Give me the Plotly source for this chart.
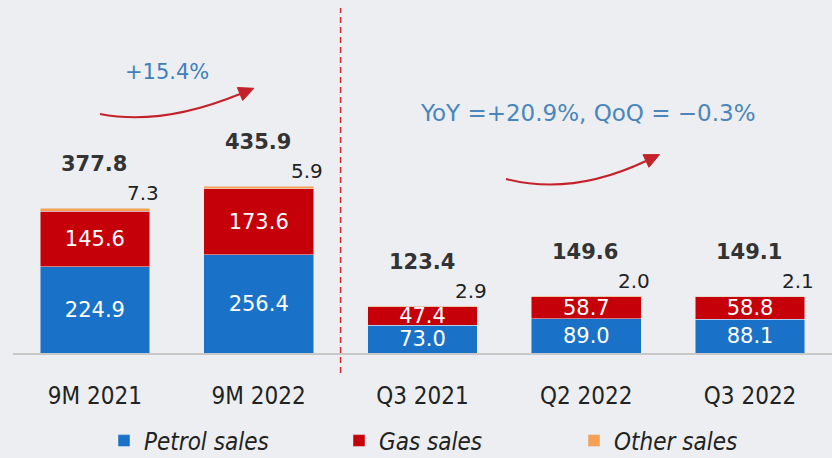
import math
import plotly.graph_objects as go

categories = ["9M 2021", "9M 2022", "Q3 2021", "Q2 2022", "Q3 2022"]
petrol = [224.9, 256.4, 73.0, 89.0, 88.1]
gas = [145.6, 173.6, 47.4, 58.7, 58.8]
other = [7.3, 5.9, 2.9, 2.0, 2.1]
totals = [377.8, 435.9, 123.4, 149.6, 149.1]
series_names = ["Petrol sales", "Gas sales", "Other sales"]
growth_9m = "+15.4%"
growth_q3 = "YoY =+20.9%, QoQ = −0.3%"

W, H = 832, 458
ML, MR, MT, MB = 13, 0, 47, 105
PW = W - ML - MR
PH = H - MT - MB

BLUE = "#1a72c8"
RED = "#c60008"
ORANGE = "#f5a055"
NUM_FONT = "DejaVu Sans"
COND_FONT = "DejaVu Sans Condensed, Liberation Sans Narrow, sans-serif"


def pp(x, y):
    """pixel -> paper coordinates"""
    return (x - ML) / PW, (H - MB - y) / PH


fig = go.Figure()
fig.add_trace(go.Bar(
    x=categories, y=petrol, name=series_names[0], marker_color=BLUE,
    texttemplate="%{y:.1f}", textposition="inside", insidetextanchor="middle",
    textangle=0, constraintext="none",
    textfont=dict(color="white", size=21, family=NUM_FONT),
))
fig.add_trace(go.Bar(
    x=categories, y=gas, name=series_names[1], marker_color=RED,
    texttemplate="%{y:.1f}", textposition="inside", insidetextanchor="middle",
    textangle=0, constraintext="none",
    textfont=dict(color="white", size=21, family=NUM_FONT),
))
fig.add_trace(go.Bar(
    x=categories, y=other, name=series_names[2], marker_color=ORANGE,
    textposition="none",
))

annotations = []
for c, t, o in zip(categories, totals, other):
    annotations.append(dict(
        x=c, y=t, xref="x", yref="y", text=f"{t:.1f}", showarrow=False,
        yshift=44, xshift=-1, yanchor="middle", xanchor="center",
        font=dict(family=NUM_FONT, size=21, color="#333333", weight="bold"),
    ))
    annotations.append(dict(
        x=c, y=t, xref="x", yref="y", text=f"{o:.1f}", showarrow=False,
        yshift=15, xshift=48, yanchor="middle", xanchor="center",
        font=dict(family=NUM_FONT, size=20, color="#222222"),
    ))

gx, gy = pp(167, 72)
annotations.append(dict(x=gx, y=gy, xref="paper", yref="paper", text=growth_9m,
                        xanchor="center", yanchor="middle", showarrow=False,
                        font=dict(family=NUM_FONT, size=21, color="#3f7fba")))
qx, qy = pp(588, 113)
annotations.append(dict(x=qx, y=qy, xref="paper", yref="paper", text=growth_q3,
                        xanchor="center", yanchor="middle", showarrow=False,
                        font=dict(family=NUM_FONT, size=23, color="#4a86ba")))

shapes = []
# dashed separator between 9M and quarterly groups
shapes.append(dict(type="line", xref="x", yref="paper", x0=1.5, x1=1.5,
                   y0=pp(0, 373)[1], y1=pp(0, 8)[1],
                   line=dict(color="#d8262b", width=1.5, dash="6px,4px")))


def curved_arrow(start, ctrl, base, L=15, w=7):
    sx, sy = pp(*start)
    cx, cy = pp(*ctrl)
    bx, by = pp(*base)
    path = f"M {sx},{sy} Q {cx},{cy} {bx},{by}"
    dx, dy = base[0] - ctrl[0], base[1] - ctrl[1]
    n = math.hypot(dx, dy)
    dx, dy = dx / n, dy / n
    tip = (base[0] + L * dx, base[1] + L * dy)
    p1 = (base[0] - w * dy, base[1] + w * dx)
    p2 = (base[0] + w * dy, base[1] - w * dx)
    pts = [pp(*tip), pp(*p1), pp(*p2)]
    tri = "M " + " L ".join(f"{a},{b}" for a, b in pts) + " Z"
    return [
        dict(type="path", xref="paper", yref="paper", path=path,
             line=dict(color="#c4222a", width=2)),
        dict(type="path", xref="paper", yref="paper", path=tri,
             fillcolor="#c4222a", line=dict(color="#c4222a", width=1)),
    ]


shapes += curved_arrow((100, 114), (162, 126), (240, 94))
shapes += curved_arrow((506, 179), (572, 196), (646, 161))

fig.update_layout(
    width=W, height=H,
    margin=dict(l=ML, r=MR, t=MT, b=MB, autoexpand=False),
    paper_bgcolor="#eceef1", plot_bgcolor="#eceef1",
    barmode="stack", bargap=0.33,
    showlegend=True,
    legend=dict(orientation="h", x=pp(104, 0)[0], xanchor="left",
                y=pp(0, 441)[1], yanchor="middle",
                font=dict(family=COND_FONT, size=24, color="#222222", style="italic"),
                entrywidth=190, entrywidthmode="pixels",
                bgcolor="rgba(0,0,0,0)", traceorder="normal"),
    xaxis=dict(showline=True, linecolor="#c8c8c8", linewidth=1.5, ticks="",
               showgrid=False, ticklabelstandoff=20, automargin=False,
               tickfont=dict(family=COND_FONT, size=24, color="#222222")),
    yaxis=dict(visible=False, range=[0, 800], automargin=False),
    annotations=annotations,
    shapes=shapes,
    uniformtext=dict(mode=False),
)

fig.write_html("out.html", config={"displayModeBar": False},
               post_script="document.body.style.margin='0';")
